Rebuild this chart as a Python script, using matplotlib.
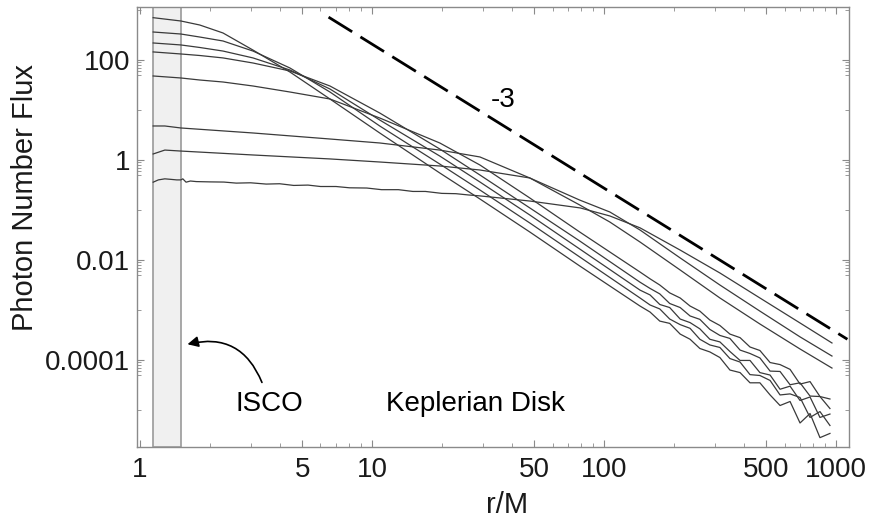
import matplotlib
matplotlib.use('Agg')
import matplotlib.pyplot as plt
from matplotlib.ticker import FixedLocator, NullFormatter

plt.rcParams['font.family'] = ['Liberation Sans', 'DejaVu Sans']

# radii (r/M) shared by the five steep curves, inner part
r_main = [1.14, 1.5, 1.81, 2.28, 3.07, 4.43, 6.59, 10.8, 19.6, 29.2, 47.9, 78.6, 143]
flux_a = [702, 603, 501, 347, 158, 57.5, 16.6, 3.47, 0.55, 0.166, 0.0363, 7.6e-3, 1.2e-3]
flux_b = [363, 331, 288, 240, 151, 69.2, 22.9, 4.79, 0.83, 0.251, 0.055, 0.0115, 1.74e-3]
flux_c = [219, 200, 178, 151, 110, 63.1, 26.3, 6.31, 1.20, 0.363, 0.0794, 0.0166, 2.5e-3]
flux_d = [145, 132, 123, 110, 87.1, 60.3, 30.2, 8.71, 1.66, 0.501, 0.110, 0.024, 3.6e-3]
flux_e = [47.9, 43.7, 39.8, 36.3, 30.2, 22.9, 16.6, 6.92, 2.19, 0.794, 0.174, 0.0363, 5.75e-3]

# noisy outer part of the same five curves
r_tail = [158, 174, 192, 213, 235, 259, 286, 316, 349, 386, 426, 470, 520, 574, 634, 700, 773, 853, 942]
tail_a = [9.1e-4, 6.0e-4, 5.4e-4, 3.3e-4, 2.6e-4, 1.7e-4, 1.45e-4, 1.12e-4, 6.3e-5, 5.6e-5,
          3.5e-5, 3.5e-5, 2.0e-5, 1.23e-5, 1.48e-5, 5.5e-6, 8.5e-6, 2.8e-6, 3.4e-6]
tail_b = [1.26e-3, 1.05e-3, 6.6e-4, 5.1e-4, 4.3e-4, 2.6e-4, 2.0e-4, 1.78e-4, 1.07e-4, 9.1e-5,
          5.1e-5, 4.9e-5, 3.9e-5, 2.0e-5, 2.1e-5, 1.78e-5, 7.1e-6, 9.3e-6, 4.9e-6]
tail_c = [2.0e-3, 1.29e-3, 1.12e-3, 6.6e-4, 5.6e-4, 4.2e-4, 2.6e-4, 2.3e-4, 1.48e-4, 9.8e-5,
          9.8e-5, 5.6e-5, 5.0e-5, 2.6e-5, 3.0e-5, 1.55e-5, 1.82e-5, 7.1e-6, 8.3e-6]
tail_d = [2.7e-3, 2.1e-3, 1.35e-3, 1.12e-3, 7.6e-4, 6.5e-4, 4.1e-4, 3.1e-4, 2.7e-4, 1.58e-4,
          1.35e-4, 1.1e-4, 6.0e-5, 5.9e-5, 3.2e-5, 3.5e-5, 1.9e-5, 1.86e-5, 1.07e-5]
tail_e = [4.2e-3, 3.16e-3, 2.2e-3, 1.74e-3, 1.2e-3, 9.5e-4, 6.3e-4, 4.9e-4, 3.3e-4, 2.8e-4,
          1.82e-4, 1.55e-4, 8.9e-5, 8.1e-5, 6.5e-5, 3.3e-5, 3.7e-5, 1.86e-5, 1.66e-5]

# flatter curves
r_fg = [1.14, 1.28, 1.5, 3.07, 6.59, 10.8, 19.6, 29.2, 47.9, 78.6, 106, 143, 213, 316, 470, 700, 961]
flux_f = [4.79, 4.79, 4.37, 3.47, 2.63, 2.19, 1.58, 1.15, 0.437, 0.126, 0.0575, 0.0229,
          6.31e-3, 1.74e-3, 5.25e-4, 1.66e-4, 6.9e-5]
flux_g = [1.32, 1.58, 1.51, 1.26, 1.05, 0.912, 0.759, 0.631, 0.437, 0.158, 0.0912, 0.0398,
          0.011, 3.16e-3, 9.5e-4, 2.9e-4, 1.2e-4]

r_h = [1.14, 1.2, 1.28, 1.36, 1.44, 1.5, 1.53, 1.58, 1.65, 1.75, 2.0, 2.3, 2.6, 3.0, 3.5, 4.0,
       4.6, 5.3, 6.0, 7.0, 8.0, 9.5, 11, 13, 15, 17, 20, 23, 26, 29, 48, 79, 106, 143, 213,
       316, 470, 700, 961]
flux_h = [0.36, 0.40, 0.42, 0.41, 0.40, 0.40, 0.42, 0.36, 0.38, 0.37, 0.365, 0.362, 0.345,
          0.35, 0.33, 0.335, 0.31, 0.315, 0.295, 0.295, 0.278, 0.275, 0.255, 0.255, 0.235,
          0.235, 0.215, 0.212, 0.2, 0.192, 0.151, 0.110, 0.076, 0.044, 0.0158, 5.5e-3,
          1.74e-3, 5.5e-4, 2.19e-4]

# reference power law (slope ~ -3)
r_ref = [6.5, 1120]
flux_ref = [720, 2.6e-4]

isco = [1.14, 1.5]

fig = plt.figure(figsize=(8.76, 5.21), dpi=100)
ax = fig.add_axes([137 / 876, 1 - 447 / 521, (849 - 137) / 876, (447 - 7) / 521])
ax.set_xscale('log')
ax.set_yscale('log')
ax.set_xlim(0.971, 1138)
ax.set_ylim(1.82e-6, 1148)

ax.axvspan(isco[0], isco[1], facecolor='#f0f0f0', edgecolor='#9a9a9a', lw=1.2, zorder=1)

lc = '#3a3a3a'
for f_main, f_tail in [(flux_a, tail_a), (flux_b, tail_b), (flux_c, tail_c),
                       (flux_d, tail_d), (flux_e, tail_e)]:
    ax.plot(r_main + r_tail, f_main + f_tail, color=lc, lw=0.9, zorder=3)
ax.plot(r_fg, flux_f, color=lc, lw=0.9, zorder=3)
ax.plot(r_fg, flux_g, color=lc, lw=0.9, zorder=3)
ax.plot(r_h, flux_h, color=lc, lw=0.9, zorder=3)

ax.plot(r_ref, flux_ref, color='black', lw=2.0, dashes=(10, 3.5), zorder=3)

ax.text(36.7, 15.8, '-3', fontsize=20, ha='center', va='center')
ax.text(3.6, 1.32e-5, 'ISCO', fontsize=20, ha='center', va='center')
ax.text(28, 1.32e-5, 'Keplerian Disk', fontsize=20, ha='center', va='center')
ax.annotate('', xy=(1.56, 2.0e-4), xytext=(3.39, 3.16e-5),
            arrowprops=dict(arrowstyle='-|>', connectionstyle='arc3,rad=0.45',
                            color='black', lw=1.2, mutation_scale=16))

for s in ax.spines.values():
    s.set_color('#8a8a8a')
    s.set_linewidth(1.0)

ax.xaxis.set_major_locator(FixedLocator([1, 5, 10, 50, 100, 500, 1000]))
ax.set_xticklabels(['1', '5', '10', '50', '100', '500', '1000'])
ax.xaxis.set_minor_locator(FixedLocator([m * 10 ** k for k in range(0, 3) for m in (2, 3, 4, 6, 7, 8, 9)]))
ax.xaxis.set_minor_formatter(NullFormatter())

ax.yaxis.set_major_locator(FixedLocator([1e-4, 1e-2, 1, 100]))
ax.set_yticklabels(['0.0001', '0.01', '1', '100'])
ax.yaxis.set_minor_locator(FixedLocator([10.0 ** k for k in (-5, -3, -1, 1, 3)] +
                                        [m * 10.0 ** k for k in (-5, -3, -1, 1) for m in (5, 6, 7, 8, 9)]))
ax.yaxis.set_minor_formatter(NullFormatter())

ax.tick_params(which='both', direction='in', top=True, right=True, color='#8a8a8a',
               labelsize=20, labelcolor='#1a1a1a')
ax.tick_params(which='major', length=5, width=0.8)
ax.tick_params(which='minor', length=3, width=0.6)
ax.tick_params(axis='x', pad=7)
ax.tick_params(axis='y', pad=5)

fig.text(25 / 876, 1 - 197 / 521, 'Photon Number Flux', rotation=90, fontsize=21,
         ha='center', va='center', color='#1a1a1a')
fig.text(507 / 876, 1 - 505 / 521, 'r/M', fontsize=21, ha='center', va='center', color='#1a1a1a')

fig.savefig('out.png', dpi=100)
